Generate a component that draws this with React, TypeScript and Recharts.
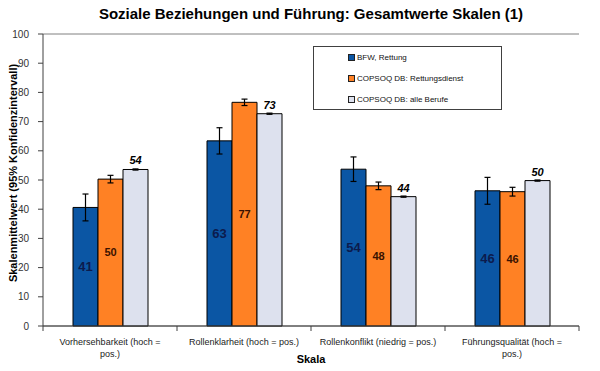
import React from 'react';
import {
  BarChart,
  Bar,
  XAxis,
  YAxis,
  CartesianGrid,
  Legend,
  ErrorBar,
  LabelList,
} from 'recharts';

// category names, with the line breaks used on the axis
const categories = [
  'Vorhersehbarkeit (hoch =\npos.)',
  'Rollenklarheit (hoch = pos.)',
  'Rollenkonflikt (niedrig = pos.)',
  'Führungsqualität (hoch =\npos.)',
];
const bfw = [40.6, 63.4, 53.7, 46.3];
const bfwErr = [4.6, 4.5, 4.2, 4.6];
const copsoqRd = [50.3, 76.6, 48.0, 46.0];
const copsoqRdErr = [1.3, 1.1, 1.3, 1.5];
const copsoqAll = [53.6, 72.7, 44.3, 49.8];
const copsoqAllErr = [0.2, 0.2, 0.2, 0.2];
const yTicks = [0, 10, 20, 30, 40, 50, 60, 70, 80, 90, 100];

const seriesNames = ['BFW, Rettung', 'COPSOQ DB: Rettungsdienst', 'COPSOQ DB: alle Berufe'];
const seriesColors = ['#0B56A4', '#FF8124', '#DDE1EE'];

const data = categories.map((name, i) => ({
  name,
  bfw: bfw[i],
  bfwErr: bfwErr[i],
  rd: copsoqRd[i],
  rdErr: copsoqRdErr[i],
  all: copsoqAll[i],
  allErr: copsoqAllErr[i],
}));

const FONT = 'Arial, "Liberation Sans", sans-serif';

const CategoryTick = (props: any) => {
  const { x, y, payload, index, visibleTicksCount } = props;
  const half = payload.offset ?? 67;
  const axisY = y - 12;
  const lines = String(payload.value).split('\n');
  return (
    <g>
      <line x1={x - half} x2={x - half} y1={axisY} y2={axisY + 5} stroke="#404040" />
      {index === visibleTicksCount - 1 && (
        <line x1={x + half} x2={x + half} y1={axisY} y2={axisY + 5} stroke="#404040" />
      )}
      <text x={x} y={y + 7} textAnchor="middle" fontSize={9} fontFamily={FONT} fill="#222">
        {lines.map((l, i) => (
          <tspan key={i} x={x} dy={i === 0 ? 0 : 12}>
            {l}
          </tspan>
        ))}
      </text>
    </g>
  );
};

const LegendBox = () => (
  <div
    style={{
      width: 189,
      height: 64,
      border: '1px solid #404040',
      background: '#fff',
      boxSizing: 'border-box',
      fontFamily: FONT,
    }}
  >
    {seriesNames.map((n, i) => (
      <div
        key={n}
        style={{ display: 'flex', alignItems: 'center', height: 21, paddingLeft: 34, fontSize: 8, color: '#111' }}
      >
        <span
          style={{
            display: 'inline-block',
            width: 5,
            height: 5,
            border: '1px solid #222',
            background: seriesColors[i],
            marginRight: 2,
          }}
        />
        {n}
      </div>
    ))}
  </div>
);

const YLabel = (props: any) => {
  const vb = props.viewBox;
  const cx = 13;
  const cy = vb.y + vb.height / 2 - 7;
  return (
    <text
      x={cx}
      y={cy}
      transform={`rotate(-90 ${cx} ${cy})`}
      textAnchor="middle"
      dominantBaseline="central"
      fontFamily={FONT}
      fontWeight="bold"
      fontSize={11}
      fill="#000"
    >
      Skalenmittelwert (95% Konfidenzintervall)
    </text>
  );
};

export default function App() {
  return (
    <div style={{ position: 'relative', width: 600, height: 371, background: '#fff', fontFamily: FONT }}>
      <style>{`body{margin:0}`}</style>
      <div
        style={{
          position: 'absolute',
          top: 5,
          left: 11,
          width: 600,
          textAlign: 'center',
          fontSize: 15,
          fontWeight: 'bold',
          color: '#000',
          zIndex: 2,
        }}
      >
        Soziale Beziehungen und Führung: Gesamtwerte Skalen (1)
      </div>
      <BarChart
        width={600}
        height={371}
        data={data}
        margin={{ top: 34, right: 21, bottom: 0, left: 0 }}
        barGap={0}
      >
        <CartesianGrid vertical={false} stroke="#808080" />
        <XAxis
          dataKey="name"
          height={45}
          tickLine={false}
          tickSize={0}
          tickMargin={12}
          interval={0}
          stroke="#404040"
          tick={<CategoryTick />}
          label={{
            value: 'Skala',
            position: 'insideBottom',
            offset: 8,
            style: { fontWeight: 'bold', fontSize: 11, fill: '#000', fontFamily: FONT },
          }}
        />
        <YAxis
          yAxisId="left"
          width={43}
          domain={[0, 100]}
          ticks={yTicks}
          tickSize={5}
          tickMargin={9}
          stroke="#404040"
          tick={{ fontSize: 10, fill: '#333', fontFamily: FONT }}
          label={<YLabel />}
        />
        <YAxis
          yAxisId="right"
          orientation="right"
          width={0}
          domain={[0, 100]}
          tick={false}
          tickLine={false}
          stroke="#808080"
        />
        <Legend
          layout="horizontal"
          verticalAlign="middle"
          align="center"
          wrapperStyle={{ top: 46, left: 313, width: 189, height: 64 }}
          content={<LegendBox />}
        />
        <Bar
          yAxisId="left"
          dataKey="bfw"
          name={seriesNames[0]}
          fill={seriesColors[0]}
          stroke="#000"
          strokeWidth={1}
          barSize={25}
          isAnimationActive={false}
        >
          <ErrorBar dataKey="bfwErr" width={3} stroke="#000" strokeWidth={1.2} />
          <LabelList
            dataKey="bfw"
            position="center"
            formatter={(v: any) => Math.round(v)}
            fill="#0c1b4d"
            fontWeight="bold"
            fontSize={13}
            fontFamily={FONT}
          />
        </Bar>
        <Bar
          yAxisId="left"
          dataKey="rd"
          name={seriesNames[1]}
          fill={seriesColors[1]}
          stroke="#000"
          strokeWidth={1}
          barSize={25}
          isAnimationActive={false}
        >
          <ErrorBar dataKey="rdErr" width={3} stroke="#000" strokeWidth={1.2} />
          <LabelList
            dataKey="rd"
            position="center"
            formatter={(v: any) => Math.round(v)}
            fill="#3a1200"
            fontWeight="bold"
            fontSize={11}
            fontFamily={FONT}
          />
        </Bar>
        <Bar
          yAxisId="left"
          dataKey="all"
          name={seriesNames[2]}
          fill={seriesColors[2]}
          stroke="#000"
          strokeWidth={1}
          barSize={25}
          isAnimationActive={false}
        >
          <ErrorBar dataKey="allErr" width={3} stroke="#000" strokeWidth={1.2} />
          <LabelList
            dataKey="all"
            position="top"
            offset={5}
            formatter={(v: any) => Math.round(v)}
            fill="#000"
            fontWeight="bold"
            fontStyle="italic"
            fontSize={11}
            fontFamily={FONT}
          />
        </Bar>
      </BarChart>
    </div>
  );
}
